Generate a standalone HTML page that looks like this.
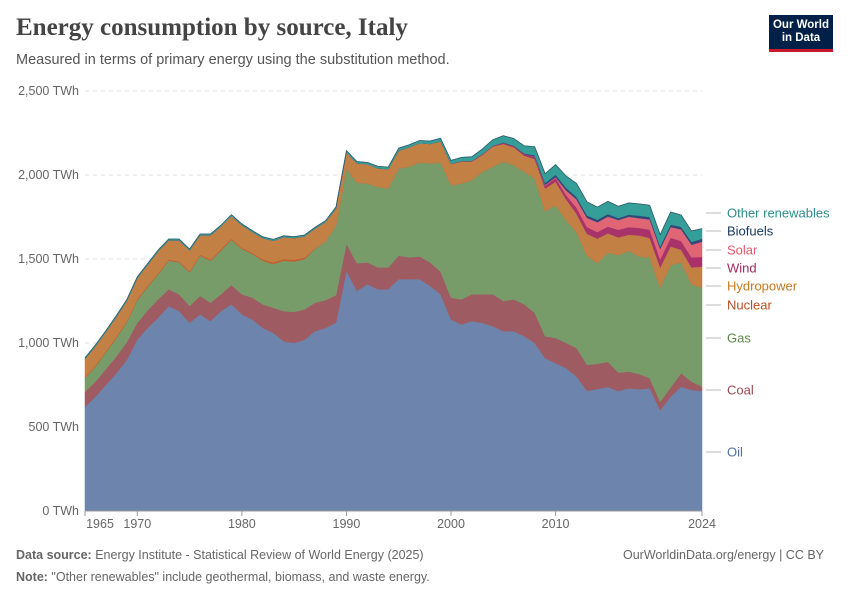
<!DOCTYPE html>
<html><head><meta charset="utf-8">
<style>
body{margin:0;background:#fff;font-family:"Liberation Sans",sans-serif;}
#wrap{position:relative;width:850px;height:600px;overflow:hidden;}
.title{position:absolute;left:16px;top:14px;font-family:"Liberation Serif",serif;font-size:25px;font-weight:bold;color:#444;}
.sub{position:absolute;left:16px;top:52px;font-size:14.5px;color:#555;}
.logo{position:absolute;left:769px;top:15px;width:64px;height:37px;background:#002147;color:#fff;font-size:11.5px;font-weight:bold;line-height:13px;text-align:center;padding-top:4px;box-sizing:border-box;border-bottom:3px solid #c91b2b;}
.foot{position:absolute;font-size:12.5px;color:#666;}
</style></head><body>
<div id="wrap">
<div class="title">Energy consumption by source, Italy</div>
<div class="sub">Measured in terms of primary energy using the substitution method.</div>
<div class="logo">Our World<br>in Data</div>
<svg id="chart" width="850" height="600" style="position:absolute;left:0;top:0"></svg>
<div class="foot" style="left:16px;top:548px"><b>Data source:</b> Energy Institute - Statistical Review of World Energy (2025)</div>
<div class="foot" style="left:623px;top:548px">OurWorldinData.org/energy | CC BY</div>
<div class="foot" style="left:16px;top:570px"><b>Note:</b> "Other renewables" include geothermal, biomass, and waste energy.</div>
</div>
<script>
const years=[];for(let y=1965;y<=2024;y++)years.push(y);
const oil=[620,680,750,820,900,1020,1090,1150,1220,1190,1120,1170,1130,1190,1230,1170,1140,1090,1060,1010,1000,1020,1070,1090,1120,1430,1310,1350,1320,1320,1380,1380,1380,1340,1290,1140,1110,1130,1120,1100,1070,1070,1040,1000,910,880,851,800,715,726,738,714,730,725,730,600,680,740,720,715];
const coal=[90,90,95,100,105,100,105,110,100,100,100,110,110,100,115,120,130,140,150,180,185,180,170,165,165,160,165,130,130,130,140,130,135,140,135,130,150,160,170,190,180,190,190,180,130,150,150,170,155,150,150,110,100,90,60,50,55,80,50,25];
const gas=[80,90,100,110,120,135,140,150,170,190,200,240,250,260,270,270,260,260,260,300,300,300,320,350,415,450,480,470,480,470,520,540,560,590,650,670,690,680,730,760,830,800,790,800,745,790,730,690,650,600,650,700,720,700,720,680,730,660,580,590];
const nuclear=[4,6,6,6,6,6,6,6,6,6,6,6,6,8,6,6,6,9,9,10,10,10,3,0,0,0,0,0,0,0,0,0,0,0,0,0,0,0,0,0,0,0,0,0,0,0,0,0,0,0,0,0,0,0,0,0,0,0,0,0];
const hydro=[110,115,115,120,120,125,125,130,115,125,125,115,145,135,135,135,125,125,130,130,130,125,118,115,100,95,115,115,110,115,105,115,115,115,125,125,130,110,100,120,105,105,95,115,135,140,125,110,130,145,115,105,95,125,115,120,110,75,100,125];
const wind=[0,0,0,0,0,0,0,0,0,0,0,0,0,0,0,0,0,0,0,0,0,0,0,0,0,0,0,0,0,0,0,0,0,0,1,2,3,4,5,5,6,7,10,12,16,22,25,35,40,40,40,45,45,45,50,48,52,52,60,58];
const solar=[0,0,0,0,0,0,0,0,0,0,0,0,0,0,0,0,0,0,0,0,0,0,0,0,0,0,0,0,0,0,0,0,0,0,0,0,0,0,0,0,0,0,0,3,5,5,28,50,55,58,60,58,62,58,60,62,63,70,75,90];
const biofuels=[0,0,0,0,0,0,0,0,0,0,0,0,0,0,0,0,0,0,0,0,0,0,0,0,0,0,0,0,0,0,0,0,0,0,0,0,0,0,0,0,3,3,4,8,12,15,15,15,15,15,15,12,12,15,15,15,15,15,17,18];
const other=[8,8,8,8,8,8,8,8,8,8,8,8,8,8,8,8,8,8,8,8,8,8,8,8,10,10,10,10,12,12,15,15,15,17,18,20,22,25,30,35,40,42,45,50,55,60,70,80,80,75,75,70,70,70,70,70,75,70,65,60];
const yTicks=[0,500,1000,1500,2000,2500];
const xTicks=[1965,1970,1980,1990,2000,2010,2024];
const series=[
 {name:'oil',d:oil,c:'#6d84ad'},{name:'coal',d:coal,c:'#9e5b62'},{name:'gas',d:gas,c:'#789b6a'},
 {name:'nuclear',d:nuclear,c:'#c65b2c'},{name:'hydropower',d:hydro,c:'#c28045'},{name:'wind',d:wind,c:'#a8336b'},
 {name:'solar',d:solar,c:'#e06575'},{name:'biofuels',d:biofuels,c:'#2f4a78'},{name:'other-renewables',d:other,c:'#369e98'}];
const X0=85,X1=702,Y0=511,Y1=91;
const xs=y=>X0+(y-1965)*(X1-X0)/(2024-1965);
const ys=v=>Y0-v*(Y0-Y1)/2500;
const svg=document.getElementById('chart');const NS='http://www.w3.org/2000/svg';
function mk(t,a){const e=document.createElementNS(NS,t);for(const k in a)e.setAttribute(k,a[k]);svg.appendChild(e);return e;}
yTicks.forEach(v=>{
 if(v>0){const l=mk('line',{x1:X0,x2:X1,y1:ys(v),y2:ys(v),stroke:'#ddd','stroke-dasharray':'4,4'});
 
 }
 const t=mk('text',{x:79,y:ys(v)+4,'text-anchor':'end','font-size':'12.5','fill':'#666','font-family':'Liberation Sans'});
 t.textContent=(v===0?'0':v.toLocaleString('en-US'))+' TWh';
 
 
});
let base=years.map(()=>0);
series.forEach(s=>{
 const top=base.map((b,i)=>b+s.d[i]);
 let p='M'+years.map((y,i)=>xs(y)+','+ys(top[i])).join('L');
 for(let i=years.length-1;i>=0;i--)p+='L'+xs(years[i])+','+ys(base[i]);
 const e=mk('path',{d:p+'Z',fill:s.c,stroke:s.c,'stroke-width':'0.5'});
 
 
 base=top;
});
const ol=mk('path',{d:'M'+years.map((y,i)=>xs(y)+','+ys(base[i])).join('L'),fill:'none',stroke:'#2e5a6a','stroke-width':'0.8'});


const ax=mk('line',{x1:X0,x2:X1,y1:Y0,y2:Y0,stroke:'#999'});


xTicks.forEach(y=>{
 const tk=mk('line',{x1:xs(y),x2:xs(y),y1:Y0,y2:Y0+5,stroke:'#999'});
 
 
 const lx=y===1965?xs(y)+15:xs(y);
 const t=mk('text',{x:lx,y:528,'text-anchor':'middle','font-size':'12.5',fill:'#666','font-family':'Liberation Sans'});
 t.textContent=y;
 
 
});
const labels=[['Other renewables',213,'#2c8c8a'],['Biofuels',231,'#18375e'],['Solar',250,'#e0596b'],['Wind',268,'#a2275e'],['Hydropower',286,'#c7791e'],['Nuclear',305,'#b54e22'],['Gas',338,'#5a8a4a'],['Coal',390,'#9b4a52'],['Oil',452,'#4f6fa0']];
labels.forEach(l=>{
 const ln=mk('line',{x1:706,x2:721,y1:l[1],y2:l[1],stroke:'#bbb'});
 
 
 const t=mk('text',{x:727,y:l[1]+4.5,'font-size':'13',fill:l[2],'font-family':'Liberation Sans'});
 t.textContent=l[0];
 
 
});
</script>
</body></html>
